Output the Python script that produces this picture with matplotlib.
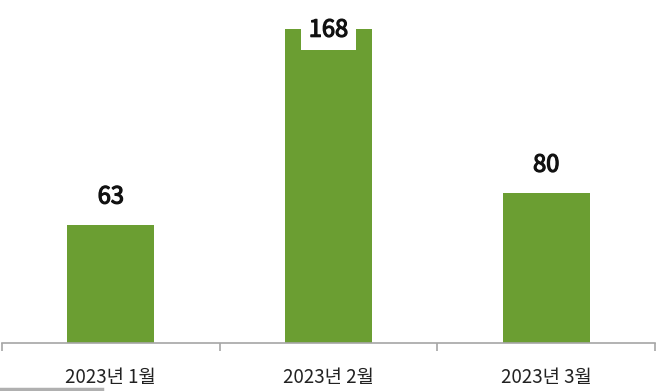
import matplotlib
matplotlib.use("Agg")
import matplotlib.pyplot as plt
import matplotlib.patheffects as pe
from matplotlib.lines import Line2D

plt.rcParams['font.family'] = ['Noto Sans CJK KR', 'DejaVu Sans']

months = ["2023년 1월", "2023년 2월", "2023년 3월"]
counts = [63, 168, 80]

bar_color = "#6b9e32"
axis_color = "#a6a6a6"

fig = plt.figure(figsize=(6.6, 3.91), dpi=100)
ax = fig.add_axes([2 / 660, 48 / 391, 653 / 660, 343 / 391])

x = list(range(len(months)))
bars = ax.bar(x, counts, width=0.4, color=bar_color)

ax.set_xlim(-0.5, len(months) - 0.5)
ax.set_ylim(0, 183.4)

# slightly heavier than regular, lighter than bold
heavy = [pe.withStroke(linewidth=0.9, foreground="#111111")]

# value labels; the tallest one sits inside the bar top with a white box
for b, v in zip(bars, counts):
    cx = b.get_x() + b.get_width() / 2
    if v > 150:
        ax.annotate(str(v), (cx, v), xytext=(0, -1), textcoords="offset points",
                    ha="center", va="center", fontsize=17,
                    color="#111111", path_effects=heavy,
                    bbox=dict(boxstyle="square,pad=0.35", fc="white", ec="none"))
    else:
        ax.annotate(str(v), (cx, v), xytext=(0, 12), textcoords="offset points",
                    ha="center", va="bottom", fontsize=17,
                    color="#111111", path_effects=heavy)

for s in ["top", "right", "left"]:
    ax.spines[s].set_visible(False)
ax.spines["bottom"].set_color(axis_color)
ax.spines["bottom"].set_linewidth(1.2)

ax.set_yticks([])
ax.set_xticks(x)
ax.set_xticklabels(months, fontsize=13.5, color="#222222")
ax.tick_params(axis="x", which="major", length=0, pad=17)
ax.set_xticks([-0.5, 0.5, 1.5, 2.5], minor=True)
ax.tick_params(axis="x", which="minor", length=6, width=1.2, color=axis_color,
               direction="out")

# thin gray strip at bottom left
fig.add_artist(Line2D([0, 102 / 660], [2.5 / 391, 2.5 / 391], color="#b0b0b0",
                      linewidth=2.5, transform=fig.transFigure))

fig.savefig("out.png", dpi=100)
